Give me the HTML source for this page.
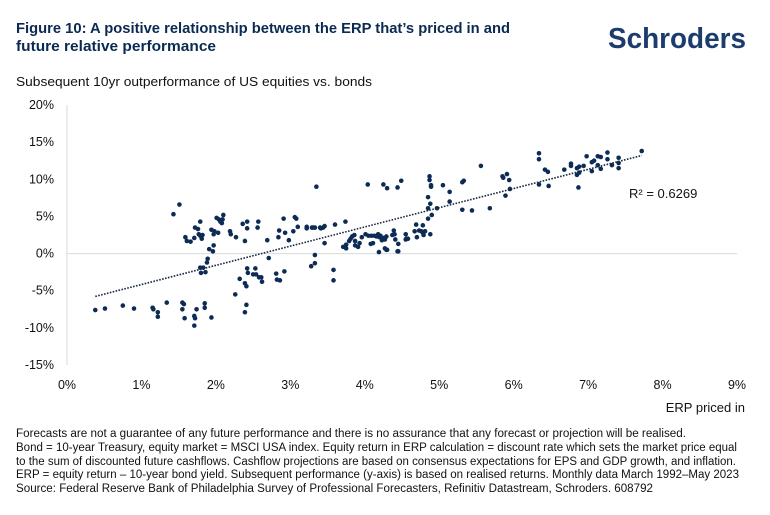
<!DOCTYPE html>
<html><head><meta charset="utf-8"><style>
html,body{margin:0;padding:0;background:#fff;}
svg{display:block;font-family:"Liberation Sans",sans-serif;}
</style></head><body>
<svg id="chart" width="770" height="515" viewBox="0 0 770 515">
<text x="16" y="33" font-size="15" font-weight="bold" fill="#0b2a52" textLength="494" lengthAdjust="spacingAndGlyphs">Figure 10: A positive relationship between the ERP that’s priced in and</text>
<text x="16" y="51" font-size="15" font-weight="bold" fill="#0b2a52" textLength="200" lengthAdjust="spacingAndGlyphs">future relative performance</text>
<text x="608" y="48" font-size="29" font-weight="bold" fill="#1d3c6e" textLength="138" lengthAdjust="spacingAndGlyphs">Schroders</text>
<text x="16" y="86" font-size="13" fill="#111" textLength="356" lengthAdjust="spacingAndGlyphs">Subsequent 10yr outperformance of US equities vs. bonds</text>
<g id="axes"></g>
<g id="marks"></g>
<text x="629" y="198" font-size="13" fill="#111">R² = 0.6269</text>
<text x="745" y="412" font-size="13" fill="#111" text-anchor="end">ERP priced in</text>
<g font-size="11.5" fill="#111">
<text x="16" y="437" textLength="670" lengthAdjust="spacingAndGlyphs">Forecasts are not a guarantee of any future performance and there is no assurance that any forecast or projection will be realised.</text>
<text x="16" y="451" textLength="721" lengthAdjust="spacingAndGlyphs">Bond = 10-year Treasury, equity market = MSCI USA index. Equity return in ERP calculation = discount rate which sets the market price equal</text>
<text x="16" y="465" textLength="720" lengthAdjust="spacingAndGlyphs">to the sum of discounted future cashflows. Cashflow projections are based on consensus expectations for EPS and GDP growth, and inflation.</text>
<text x="16" y="478" textLength="723" lengthAdjust="spacingAndGlyphs">ERP = equity return – 10-year bond yield. Subsequent performance (y-axis) is based on realised returns. Monthly data March 1992–May 2023</text>
<text x="16" y="492" textLength="637" lengthAdjust="spacingAndGlyphs">Source: Federal Reserve Bank of Philadelphia Survey of Professional Forecasters, Refinitiv Datastream, Schroders. 608792</text>
</g>
</svg>
<script>
const xTicks=[0,1,2,3,4,5,6,7,8,9];
const yTicks=[20,15,10,5,0,-5,-10,-15];
const erpX=[0.38,0.51,0.75,0.90,1.15,1.16,1.22,1.22,1.34,1.43,1.51,1.55,1.57,1.55,1.58,1.59,1.61,1.66,1.71,1.72,1.76,1.79,1.77,1.79,1.82,1.81,1.79,1.83,1.80,1.86,1.88,1.89,1.91,1.96,1.97,1.94,1.97,1.98,2.03,2.01,2.04,2.08,2.06,2.10,2.09,1.74,1.71,1.72,1.71,1.85,1.85,1.94,2.19,2.20,2.27,2.36,2.42,2.42,2.39,2.57,2.56,2.26,2.32,2.39,2.41,2.42,2.43,2.50,2.53,2.54,2.58,2.61,2.62,2.41,2.39,2.69,2.71,2.81,2.82,2.86,2.92,2.84,2.85,2.91,2.93,2.98,3.04,3.06,3.08,3.10,3.22,3.22,3.29,3.31,3.35,3.33,3.40,3.41,3.44,3.46,3.28,3.33,3.33,3.46,3.58,3.58,3.60,3.74,3.71,3.75,3.75,3.79,3.81,3.83,3.86,3.87,3.87,3.91,3.93,3.96,4.01,4.04,4.05,4.08,4.09,4.11,4.13,4.16,4.18,4.19,4.21,4.23,4.25,4.25,4.27,4.30,4.30,4.29,4.37,4.39,4.40,4.44,4.44,4.45,4.49,4.55,4.56,4.20,4.27,4.29,4.41,4.45,4.55,4.58,4.67,4.69,4.70,4.73,4.76,4.78,4.78,4.79,4.81,4.85,4.85,4.85,4.87,4.87,4.88,4.88,4.89,4.90,4.89,4.97,5.05,5.14,5.14,5.31,5.31,5.33,5.44,5.56,5.68,5.85,5.86,5.89,5.91,5.94,5.95,6.34,6.34,6.34,6.42,6.46,6.47,6.68,6.77,6.77,6.85,6.85,6.87,6.88,6.88,6.94,6.98,7.05,7.05,7.08,7.13,7.13,7.17,7.17,7.26,7.26,7.32,7.41,7.41,7.41,7.72];
const outperfY=[-7.6,-7.4,-7.0,-7.4,-7.3,-7.5,-7.9,-8.5,-6.6,5.3,6.6,-6.6,-6.8,-7.5,-8.7,2.2,1.7,1.6,2.1,3.5,3.3,4.3,2.6,2.4,2.5,2.0,-1.9,-1.9,-2.6,-2.5,-1.2,-0.7,0.6,0.3,1.1,3.2,2.6,3.0,2.8,4.8,4.6,4.1,4.3,5.2,4.6,-7.5,-8.4,-8.7,-9.7,-6.7,-7.3,-8.6,3.0,2.6,2.2,4.0,4.3,3.4,1.7,4.3,3.5,-5.5,-3.4,-4.0,-4.4,-2.0,-2.6,-2.8,-2.0,-2.8,-3.2,-3.2,-3.8,-6.9,-7.9,1.8,-0.6,-2.7,-3.5,-3.6,-2.4,2.2,3.1,4.7,2.8,1.8,3.0,4.9,4.7,3.6,3.6,3.4,3.5,3.5,9.0,3.5,3.5,3.4,3.5,3.7,-1.7,-1.3,-0.2,1.4,-2.2,-3.6,3.9,4.3,0.9,0.7,1.2,1.7,2.0,2.3,2.5,1.7,1.1,0.9,1.4,2.2,2.6,9.3,2.4,1.3,2.4,1.4,2.4,2.3,2.6,0.2,2.4,1.8,9.3,2.1,0.7,8.8,0.5,2.3,2.5,3.1,2.6,8.9,0.3,1.3,9.8,2.6,2.0,2.2,1.9,0.5,1.9,0.3,1.9,2.0,3.0,3.9,2.2,3.1,3.0,3.8,2.8,2.5,3.0,4.7,7.6,6.1,10.4,9.9,6.7,2.6,9.2,5.2,9.0,6.1,9.2,8.3,7.0,5.9,9.6,9.8,5.8,11.8,6.1,10.4,10.2,7.8,10.7,9.9,8.7,13.5,12.7,9.3,11.3,11.0,9.1,11.3,12.1,11.8,10.6,11.5,8.9,10.9,11.7,11.8,13.1,11.1,12.3,12.5,11.9,13.1,13.0,11.4,13.6,12.7,11.9,12.9,12.2,11.5,13.8];
const NS='http://www.w3.org/2000/svg';
const X0=67,X1=737,XMIN=0,XMAX=9,Y0=365,Y1=105,YMIN=-15,YMAX=20;
function xs(v){return X0+(v-XMIN)/(XMAX-XMIN)*(X1-X0);}
function ys(v){return Y0-(v-YMIN)/(YMAX-YMIN)*(Y0-Y1);}
function mk(tag,attrs,parent){const e=document.createElementNS(NS,tag);for(const k in attrs)e.setAttribute(k,attrs[k]);parent.appendChild(e);return e;}
const axes=document.getElementById('axes'),marks=document.getElementById('marks');
let el=mk('line',{x1:X0,x2:X0,y1:Y1,y2:Y0,stroke:'#d9d9d9','stroke-width':1},axes);


el=mk('line',{x1:X0,x2:X1,y1:ys(0),y2:ys(0),stroke:'#d9d9d9','stroke-width':1},axes);


yTicks.forEach(t=>{
 const tx=mk('text',{x:54,y:ys(t)+4,'font-size':12.5,fill:'#111','text-anchor':'end'},axes);
 tx.textContent=t+'%';
 
 
});
xTicks.forEach(t=>{
 const tx=mk('text',{x:xs(t),y:389,'font-size':12.5,fill:'#111','text-anchor':'middle'},axes);
 tx.textContent=t+'%';
 
 
});
const n=erpX.length;let sx=0,sy=0,sxx=0,sxy=0;
for(let i=0;i<n;i++){sx+=erpX[i];sy+=outperfY[i];sxx+=erpX[i]*erpX[i];sxy+=erpX[i]*outperfY[i];}
const b=(n*sxy-sx*sy)/(n*sxx-sx*sx),a=(sy-b*sx)/n;
const xmn=Math.min(...erpX),xmx=Math.max(...erpX);
erpX.forEach((v,i)=>{
 const c=mk('circle',{cx:xs(v),cy:ys(outperfY[i]),r:2.3,fill:'#0c2b55'},marks);
 
 
});
el=mk('line',{x1:xs(xmn),y1:ys(a+b*xmn),x2:xs(xmx),y2:ys(a+b*xmx),stroke:'#1a2a44','stroke-width':1.6,'stroke-dasharray':'1.6 1.4'},marks);


</script>
</body></html>
